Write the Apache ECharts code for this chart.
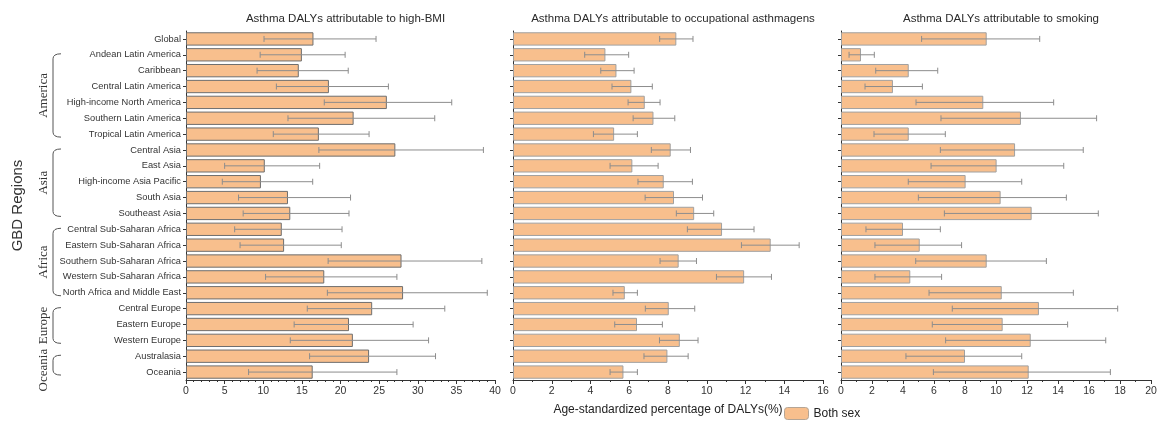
<!DOCTYPE html>
<html>
<head>
<meta charset="utf-8">
<script src="https://cdn.jsdelivr.net/npm/echarts@6/dist/echarts.min.js"></script>
<style>
  html, body { margin: 0; padding: 0; background: #fff; }
  #chart { width: 1169px; height: 427px; }
</style>
</head>
<body>
<div id="chart"></div>
<script>
// GBD regions, top to bottom
const regions = [
  'Global', 'Andean Latin America', 'Caribbean', 'Central Latin America',
  'High-income North America', 'Southern Latin America', 'Tropical Latin America',
  'Central Asia', 'East Asia', 'High-income Asia Pacific', 'South Asia', 'Southeast Asia',
  'Central Sub-Saharan Africa', 'Eastern Sub-Saharan Africa', 'Southern Sub-Saharan Africa',
  'Western Sub-Saharan Africa', 'North Africa and Middle East',
  'Central Europe', 'Eastern Europe', 'Western Europe', 'Australasia', 'Oceania'
];

// Continent groupings (first and last region index of each brace)
const groupNames = ['America', 'Asia', 'Africa', 'Europe', 'Oceania'];
const groupStart = [1, 7, 12, 17, 20];
const groupEnd   = [6, 11, 16, 19, 21];

const panelTitles = [
  'Asthma DALYs attributable to high-BMI',
  'Asthma DALYs attributable to occupational asthmagens',
  'Asthma DALYs attributable to smoking'
];

// High BMI: estimate, lower and upper uncertainty bound (%)
const bmiVal = [16.5, 15.0, 14.6, 18.5, 26.0, 21.7, 17.2, 27.1, 10.2, 9.7, 13.2, 13.5, 12.4, 12.7, 27.9, 17.9, 28.1, 24.1, 21.1, 21.6, 23.7, 16.4];
const bmiLow = [10.1, 9.6, 9.2, 11.7, 17.9, 13.2, 11.3, 17.2, 5.0, 4.7, 6.8, 7.4, 6.3, 7.0, 18.4, 10.3, 18.3, 15.7, 14.0, 13.5, 16.0, 8.1];
const bmiUp  = [24.6, 20.6, 21.0, 26.2, 34.4, 32.2, 23.7, 38.5, 17.3, 16.4, 21.3, 21.1, 20.2, 20.1, 38.3, 27.3, 39.0, 33.5, 29.4, 31.4, 32.3, 27.3];

// Occupational asthmagens
const occVal = [8.43, 4.77, 5.34, 6.11, 6.80, 7.25, 5.22, 8.14, 6.16, 7.78, 8.31, 9.35, 10.79, 13.30, 8.55, 11.93, 5.77, 8.04, 6.40, 8.61, 7.97, 5.70];
const occLow = [7.57, 3.70, 4.53, 5.11, 5.94, 6.20, 4.15, 7.14, 5.01, 6.45, 6.82, 8.43, 9.00, 11.79, 7.59, 10.50, 5.16, 6.83, 5.25, 7.56, 6.76, 5.01];
const occUp  = [9.29, 5.97, 6.25, 7.19, 7.59, 8.35, 6.42, 9.16, 7.49, 9.26, 9.78, 10.36, 12.44, 14.77, 9.47, 13.34, 6.42, 9.38, 7.71, 9.55, 9.04, 6.42];

// Smoking
const smkVal = [9.40, 1.29, 4.37, 3.35, 9.18, 11.61, 4.37, 11.23, 10.04, 8.04, 10.30, 12.30, 4.00, 5.08, 9.40, 4.47, 10.37, 12.77, 10.43, 12.24, 8.00, 12.11];
const smkLow = [5.20, 0.52, 2.24, 1.55, 4.84, 6.45, 2.13, 6.41, 5.81, 4.34, 4.99, 6.67, 1.61, 2.19, 4.82, 2.19, 5.68, 7.18, 5.89, 6.75, 4.19, 5.96];
const smkUp  = [12.82, 2.15, 6.24, 5.25, 13.72, 16.49, 6.73, 15.63, 14.37, 11.66, 14.54, 16.60, 6.41, 7.78, 13.25, 6.49, 14.99, 17.85, 14.62, 17.08, 11.66, 17.38];

// x-axis ranges per panel
const xMax = [40, 16, 20];
const xInterval = [5, 2, 2];
const xMinorSplit = [5, 2, 2];

const panels = [
  { val: bmiVal, low: bmiLow, up: bmiUp, border: '#6e6e6e' },
  { val: occVal, low: occLow, up: occUp, border: '#a0a0a0' },
  { val: smkVal, low: smkLow, up: smkUp, border: '#a0a0a0' }
];

const FONT = 'Liberation Sans, Arial, sans-serif';
const BAR_COLOR = '#F8BF8D';
const gridLeft = [186, 513, 841];
const gridWidth = [309, 310, 310];
const gridTop = 31, gridHeight = 349;

const chart = echarts.init(document.getElementById('chart'), null, { renderer: 'canvas' });

const grids = [], xAxes = [], yAxes = [], series = [], titles = [];
panels.forEach((p, i) => {
  grids.push({ left: gridLeft[i], top: gridTop, width: gridWidth[i], height: gridHeight, containLabel: false });
  titles.push({
    text: panelTitles[i],
    left: gridLeft[i] + gridWidth[i] / 2, top: 8, textAlign: 'center',
    textStyle: { fontFamily: FONT, fontSize: 11.5, fontWeight: 'normal', color: '#2a2a2a' }
  });
  xAxes.push({
    type: 'value', gridIndex: i, min: 0, max: xMax[i], interval: xInterval[i],
    axisLine: { show: true, lineStyle: { color: '#333', width: 1 } },
    axisTick: { show: true, length: 4, lineStyle: { color: '#333' } },
    minorTick: { show: true, splitNumber: xMinorSplit[i], length: 2, lineStyle: { color: '#333' } },
    splitLine: { show: false },
    axisLabel: { fontFamily: FONT, fontSize: 10.5, color: '#333', margin: 6 }
  });
  yAxes.push({
    type: 'category', gridIndex: i, data: regions, inverse: true,
    axisLine: { show: true, lineStyle: { color: '#333', width: 1 } },
    axisTick: { show: true, alignWithLabel: true, length: 3, lineStyle: { color: '#333' } },
    axisLabel: { show: i === 0, fontFamily: FONT, fontSize: 9.3, color: '#333', margin: 5 }
  });
  series.push({
    name: 'Both sex', type: 'bar', xAxisIndex: i, yAxisIndex: i,
    data: p.val, barCategoryGap: '16%',
    itemStyle: { color: BAR_COLOR, borderColor: p.border, borderWidth: 1 },
    z: 2
  });
  series.push({
    type: 'custom', xAxisIndex: i, yAxisIndex: i, z: 3, silent: true,
    data: p.low.map((lo, k) => [lo, p.up[k], k]),
    encode: { x: [0, 1], y: 2 },
    renderItem: function (params, api) {
      const a = api.coord([api.value(0), api.value(2)]);
      const b = api.coord([api.value(1), api.value(2)]);
      const h = 3;
      const style = { stroke: '#8d8d8d', lineWidth: 1, fill: null };
      return {
        type: 'group',
        children: [
          { type: 'line', shape: { x1: a[0], y1: a[1], x2: b[0], y2: b[1] }, style: style },
          { type: 'line', shape: { x1: a[0], y1: a[1] - h, x2: a[0], y2: a[1] + h }, style: style },
          { type: 'line', shape: { x1: b[0], y1: b[1] - h, x2: b[0], y2: b[1] + h }, style: style }
        ]
      };
    }
  });
});

chart.setOption({
  animation: false,
  backgroundColor: '#fff',
  title: titles,
  grid: grids,
  xAxis: xAxes,
  yAxis: yAxes,
  series: series,
  legend: {
    data: ['Both sex'], left: 779, top: 402,
    itemWidth: 24, itemHeight: 12, itemGap: 6,
    itemStyle: { borderColor: '#b5a595', borderWidth: 1 },
    textStyle: { fontFamily: FONT, fontSize: 12, color: '#222' }
  }
});

// Axis title, side label and continent braces
const graphics = [
  {
    type: 'text',
    x: gridLeft[1] + gridWidth[1] / 2, y: 404,
    style: { text: 'Age-standardized percentage of DALYs(%)', font: '12px ' + FONT, fill: '#222', textAlign: 'center' }
  },
  {
    type: 'text', x: 18, y: gridTop + gridHeight / 2, rotation: Math.PI / 2,
    style: { text: 'GBD Regions', font: '15px ' + FONT, fill: '#333', textAlign: 'center', textVerticalAlign: 'middle' }
  }
];

const braceStyle = { stroke: '#555', lineWidth: 1, fill: null };
groupNames.forEach((name, g) => {
  const yTop = chart.convertToPixel({ yAxisIndex: 0 }, regions[groupStart[g]]) - 1;
  const yBot = chart.convertToPixel({ yAxisIndex: 0 }, regions[groupEnd[g]]) + 3;
  const xv = 53, xt = 61, r = 5;
  graphics.push({
    type: 'bezierCurve',
    shape: { x1: xt, y1: yTop, cpx1: xv, cpy1: yTop, x2: xv, y2: yTop + r },
    style: braceStyle
  });
  graphics.push({
    type: 'line',
    shape: { x1: xv, y1: yTop + r, x2: xv, y2: yBot - r },
    style: braceStyle
  });
  graphics.push({
    type: 'bezierCurve',
    shape: { x1: xv, y1: yBot - r, cpx1: xv, cpy1: yBot, x2: xt, y2: yBot },
    style: braceStyle
  });
  graphics.push({
    type: 'text', x: 44, y: (yTop + yBot) / 2 + (name === 'Oceania' ? 5 : 0), rotation: Math.PI / 2,
    style: { text: name, font: '13px Liberation Serif, Times New Roman, serif', fill: '#333', textAlign: 'center', textVerticalAlign: 'middle' }
  });
});

chart.setOption({ graphic: graphics });
</script>
</body>
</html>
